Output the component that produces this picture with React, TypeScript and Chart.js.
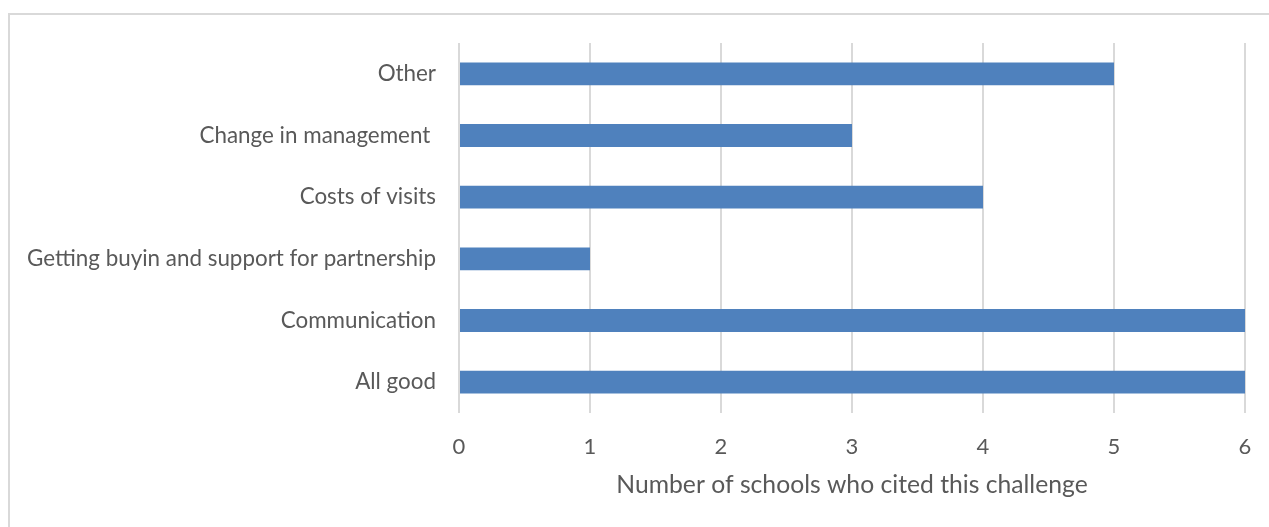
import React, { useEffect, useRef } from "react";
import { Chart, registerables } from "chart.js";

Chart.register(...registerables);

const categories = [
  "Other",
  "Change in management ",
  "Costs of visits",
  "Getting buyin and support for partnership",
  "Communication",
  "All good",
];
const schoolCounts = [5, 3, 4, 1, 6, 6];
const xTickMin = 0;
const xTickMax = 6;
const xAxisTitle = "Number of schools who cited this challenge";

const FONT = "Lato, 'Open Sans', sans-serif";
const TEXT = "#595959";
const GRID = "#d9d9d9";
const BAR = "#4f81bd";

export default function App() {
  const ref = useRef<HTMLCanvasElement | null>(null);

  useEffect(() => {
    if (!ref.current) return;
    const chart = new Chart(ref.current, {
      type: "bar",
      data: {
        labels: categories,
        datasets: [
          {
            data: schoolCounts,
            backgroundColor: BAR,
            borderWidth: 0,
            barPercentage: 0.74,
            categoryPercentage: 0.5,
          },
        ],
      },
      options: {
        indexAxis: "y",
        responsive: false,
        animation: false,
        maintainAspectRatio: false,
        layout: { padding: { top: 43, right: 24, left: 0, bottom: 0 } },
        plugins: {
          legend: { display: false },
          tooltip: { enabled: false },
          title: { display: false },
        },
        scales: {
          x: {
            min: xTickMin,
            max: xTickMax,
            ticks: {
              stepSize: 1,
              color: TEXT,
              font: { family: FONT, size: 22 },
              padding: 21,
            },
            grid: {
              color: GRID,
              lineWidth: 2,
              drawTicks: false,
            },
            border: { display: false },
            title: {
              display: true,
              text: xAxisTitle,
              color: TEXT,
              font: { family: FONT, size: 24.7 },
              padding: { top: 4, bottom: 27 },
            },
            afterFit: (s: any) => {
              s.height = 114;
              s.paddingLeft = 0;
              s.paddingRight = 0;
            },
          },
          y: {
            ticks: {
              color: TEXT,
              font: { family: FONT, size: 22.4 },
              padding: 23,
            },
            grid: { display: false, drawTicks: false },
            border: { display: false },
            afterFit: (s: any) => {
              s.width = 459;
              s.paddingTop = 0;
              s.paddingBottom = 0;
            },
          },
        },
      },
    });
    return () => chart.destroy();
  }, []);

  return (
    <div
      style={{
        position: "fixed",
        left: 0,
        top: 0,
        width: 1269,
        height: 527,
        overflow: "hidden",
        background: "#fff",
      }}
    >
      <div
        style={{
          position: "absolute",
          left: 8,
          top: 13,
          width: 1400,
          height: 700,
          border: "2px solid #d9d9d9",
          boxSizing: "border-box",
        }}
      />
      <canvas
        ref={ref}
        width={1269}
        height={527}
        style={{ position: "absolute", left: 0, top: 0 }}
      />
    </div>
  );
}
